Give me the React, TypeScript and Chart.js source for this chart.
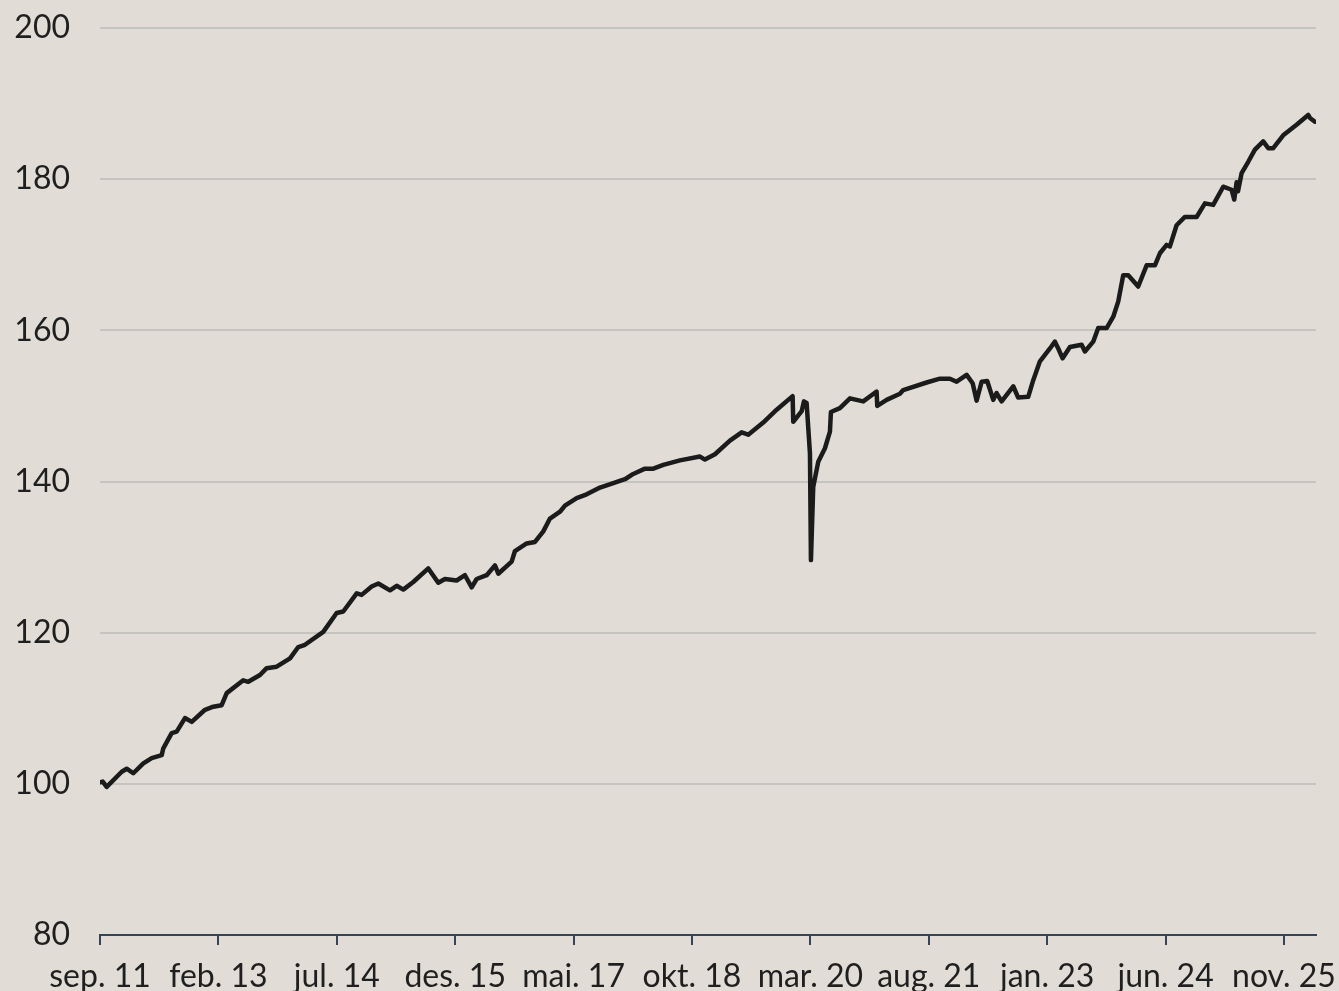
import React, { useEffect, useRef } from "react";
import { Chart, registerables } from "chart.js";

Chart.register(...registerables);

// months since sep. 2011
const months: number[] = [
  0, 0.39, 0.96, 3.12, 3.83, 4.78, 6.22, 7.42, 8.86, 9.09, 10.29, 11.01, 12.2, 13.17, 15.08, 16.27,
  17.47, 18.19, 20.57, 21.29, 22.97, 23.93, 25.37, 27.28, 28.47, 29.43, 32.06, 33.98, 34.93, 36.86,
  37.57, 39.01, 39.96, 41.64, 42.6, 43.55, 44.98, 47.14, 48.57, 49.53, 51.21, 52.4, 53.37, 54.08,
  55.52, 56.71, 57.19, 59.11, 59.58, 61.26, 62.46, 63.65, 64.61, 66.05, 66.76, 68.44, 69.88, 71.79,
  73.7, 75.38, 76.57, 78.25, 79.45, 80.88, 83.27, 86.15, 86.86, 88.3, 90.45, 92.13, 93.08, 95.23,
  97.16, 99.45, 99.54, 100.75, 101.08, 101.46, 101.94, 102.08, 102.41, 103.13, 104.09, 104.81,
  104.95, 106.24, 107.68, 109.59, 111.51, 111.6, 112.95, 114.86, 115.33, 118.69, 120.6, 122.04,
  123.0, 124.44, 125.3, 125.87, 126.59, 127.39, 128.26, 128.74, 129.46, 131.13, 131.84, 133.28,
  134.0, 134.96, 136.4, 137.11, 137.59, 138.22, 139.27, 140.95, 141.42, 142.61, 143.33, 144.54,
  145.49, 146.2, 146.92, 147.64, 149.07, 150.28, 151.47, 152.19, 153.15, 153.62, 154.58, 155.78,
  157.46, 158.65, 159.84, 161.28, 162.48, 162.86, 163.2, 163.4, 163.92, 164.87, 165.83, 167.02,
  167.74, 168.46, 169.89, 171.81, 173.48, 173.73, 174.45,
];

const values: number[] = [
  100.2, 100.3, 99.6, 101.6, 102.0, 101.4, 102.7, 103.4, 103.8, 104.7, 106.7, 106.9, 108.7, 108.2, 109.8, 110.2,
  110.4, 112.0, 113.7, 113.5, 114.4, 115.3, 115.5, 116.6, 118.1, 118.4, 120.1, 122.6, 122.8, 125.2,
  125.0, 126.1, 126.5, 125.6, 126.2, 125.7, 126.7, 128.5, 126.6, 127.1, 126.9, 127.6, 126.0, 127.1,
  127.6, 128.9, 127.8, 129.4, 130.8, 131.8, 132.0, 133.4, 135.1, 136.0, 136.8, 137.8, 138.3, 139.2,
  139.8, 140.3, 141.0, 141.7, 141.7, 142.2, 142.8, 143.3, 142.9, 143.6, 145.4, 146.5, 146.2, 147.8,
  149.5, 151.3, 147.9, 149.3, 150.6, 150.4, 143.7, 129.6, 139.3, 142.6, 144.4, 146.6,
  149.2, 149.7, 151.0, 150.6, 151.9, 150.0, 150.8, 151.6, 152.1, 153.1, 153.6, 153.6,
  153.2, 154.1, 153.0, 150.7, 153.2, 153.3, 150.8, 151.7, 150.6, 152.6, 151.1, 151.2,
  153.4, 155.9, 157.6, 158.5, 157.6, 156.3, 157.8, 158.1, 157.2, 158.5, 160.3, 160.3,
  161.8, 163.8, 167.3, 167.3, 165.8, 168.6, 168.6, 170.2, 171.3, 171.1, 173.9, 175.0,
  175.0, 176.8, 176.6, 179.0, 178.6, 177.3, 179.6, 178.4, 180.8, 182.3, 183.9, 185.0,
  184.1, 184.1, 185.8, 187.2, 188.5, 188.1, 187.6,
];

const tickMonths: number[] = [0, 17, 34, 51, 68, 85, 102, 119, 136, 153, 170];
const tickLabels: string[] = [
  "sep. 11", "feb. 13", "jul. 14", "des. 15", "mai. 17", "okt. 18",
  "mar. 20", "aug. 21", "jan. 23", "jun. 24", "nov. 25",
];

const yMin = 80;
const yMax = 200;
const yStep = 20;

export default function App() {
  const ref = useRef<HTMLCanvasElement | null>(null);

  useEffect(() => {
    document.body.style.margin = "0";
    const canvas = ref.current;
    if (!canvas) return;
    const font = { family: "Lato", size: 32 };
    const chart = new Chart(canvas, {
      type: "line",
      data: {
        datasets: [
          {
            data: months.map((m, i) => ({ x: m, y: values[i] })),
            borderColor: "#1b1b1b",
            borderWidth: 4.5,
            pointRadius: 0,
            tension: 0,
            fill: false,
            borderJoinStyle: "round",
            borderCapStyle: "round",
          },
        ],
      },
      options: {
        animation: false,
        responsive: false,
        maintainAspectRatio: false,
        layout: { padding: { top: 28, right: 23, left: 0, bottom: 0 } },
        plugins: { legend: { display: false }, tooltip: { enabled: false } },
        scales: {
          x: {
            type: "linear",
            min: 0,
            max: 174.6,
            afterBuildTicks: (scale: any) => {
              scale.ticks = tickMonths.map((v) => ({ value: v }));
            },
            afterFit: (scale: any) => {
              scale.height = 56;
              scale.paddingLeft = 0;
              scale.paddingRight = 0;
            },
            ticks: {
              autoSkip: false,
              maxRotation: 0,
              minRotation: 0,
              padding: 12,
              color: "#1f1f1f",
              font,
              callback: (v: any) => {
                const i = tickMonths.indexOf(Number(v));
                return i >= 0 ? tickLabels[i] : "";
              },
            },
            grid: {
              drawOnChartArea: false,
              drawTicks: true,
              tickLength: 10,
              color: "#34455a",
              lineWidth: 2,
            },
            border: { display: true, color: "#34455a", width: 2 },
          },
          y: {
            min: yMin,
            max: yMax,
            afterFit: (scale: any) => {
              scale.width = 100;
              scale.paddingTop = 0;
              scale.paddingBottom = 0;
            },
            ticks: {
              stepSize: yStep,
              padding: 30,
              color: "#1f1f1f",
              font,
            },
            grid: {
              drawTicks: false,
              color: "#c6c4be",
              lineWidth: 2,
            },
            border: { display: false },
          },
        },
      },
    } as any);
    return () => chart.destroy();
  }, []);

  return (
    <div style={{ width: 1339, height: 991, background: "#e1ddd6" }}>
      <canvas ref={ref} width={1339} height={991} style={{ display: "block" }} />
    </div>
  );
}
